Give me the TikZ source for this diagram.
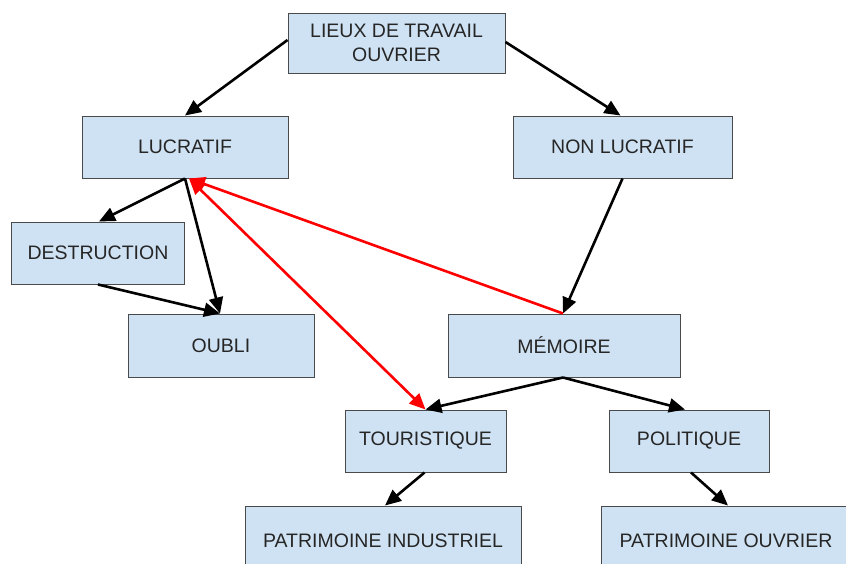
\documentclass[tikz,border=0pt]{standalone}
\usepackage{fontspec}
\setmainfont{Liberation Sans}
\usetikzlibrary{arrows.meta}
\definecolor{boxfill}{HTML}{CFE2F3}
\definecolor{boxline}{HTML}{4A4A4A}
\begin{document}
\begin{tikzpicture}[x=1pt,y=-1pt,
  box/.style={draw=boxline,line width=1pt,fill=boxfill,inner sep=0pt,align=center,
    font=\fontsize{19.5}{24}\selectfont,text=black!85},
  conn/.style={line width=2.6pt,-{Triangle[length=16pt,width=14pt]}},
  redconn/.style={conn,draw=red,-{Triangle[length=16pt,width=14pt]},red},
  redboth/.style={line width=2.6pt,draw=red,{Triangle[length=16pt,width=14pt]}-{Triangle[length=16pt,width=14pt]},red}]
\clip (0,0) rectangle (846,563);
\fill[white] (0,0) rectangle (846,563);
\node[box,minimum width=217pt,minimum height=60pt] (top) at (396.5,43) {LIEUX DE TRAVAIL\\OUVRIER};
\node[box,minimum width=206pt,minimum height=62pt] (lucr) at (185,147) {LUCRATIF};
\node[box,minimum width=219pt,minimum height=62pt] (non) at (622.5,147) {NON LUCRATIF};
\node[box,minimum width=173pt,minimum height=62pt] (destr) at (98,253) {DESTRUCTION};
\node[box,minimum width=186pt,minimum height=63pt] (oubli) at (221,345.5) {OUBLI};
\node[box,minimum width=232pt,minimum height=63pt] (mem) at (564,345.5) {MÉMOIRE};
\node[box,minimum width=161pt,minimum height=62pt] (tour) at (425.5,441) {TOURISTIQUE};
\node[box,minimum width=160pt,minimum height=62pt] (pol) at (689,441) {POLITIQUE};
\node[box,minimum width=276pt,minimum height=70pt] (pi) at (383,541) {PATRIMOINE INDUSTRIEL};
\node[box,minimum width=250pt,minimum height=70pt] (po) at (726,541) {PATRIMOINE OUVRIER};
% black connectors
\draw[conn] ([yshift=3pt]top.west) -- (lucr.north);
\draw[conn] ([yshift=1pt]top.east) -- ([xshift=-2pt]non.north);
\draw[conn] (lucr.south) -- ([xshift=1pt]destr.north);
\draw[conn] (lucr.south) -- ([xshift=-1pt]oubli.north);
\draw[conn] (destr.south) -- ([xshift=-1pt]oubli.north);
\draw[conn] (non.south) -- ([xshift=-1pt]mem.north);
\draw[conn] ([xshift=-1pt]mem.south) -- (tour.north);
\draw[conn] ([xshift=-1pt]mem.south) -- ([xshift=-4pt]pol.north);
\draw[conn] ([xshift=-1pt]tour.south) -- ([xshift=2pt]pi.north);
\draw[conn] ([xshift=2pt]pol.south) -- ([xshift=2pt]po.north);
% red connectors
\draw[redconn] ([xshift=-1pt]mem.north) -- ([xshift=4pt]lucr.south);
\draw[redboth] ([xshift=4pt]lucr.south) -- (tour.north);
\end{tikzpicture}
\end{document}
